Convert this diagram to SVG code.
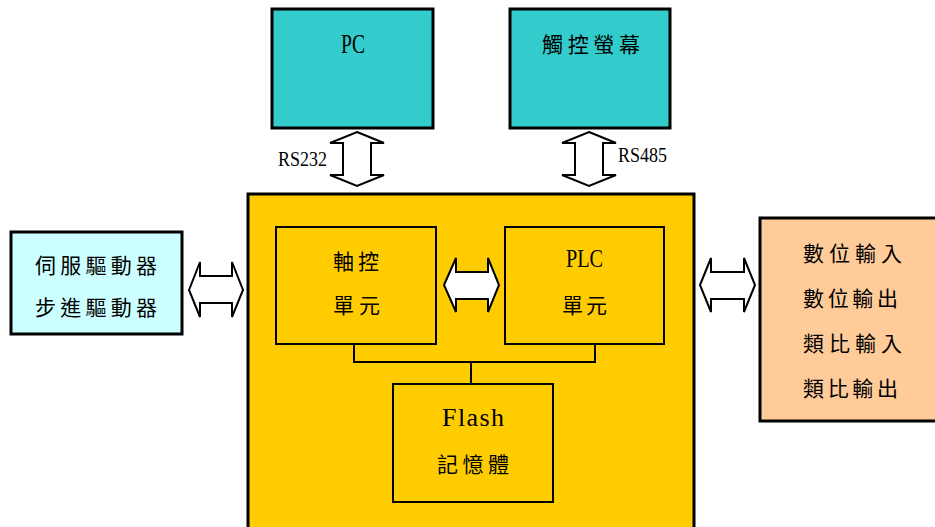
<svg xmlns="http://www.w3.org/2000/svg" width="935" height="527" viewBox="0 0 935 527">
<style>
.box{stroke:#000;stroke-width:3}
.inner{fill:#FFCC00;stroke:#000;stroke-width:2}
.arr{fill:#fff;stroke:#000;stroke-width:2;stroke-linejoin:miter}
.lat{font-family:"Liberation Serif","Noto Serif",serif;fill:#000}
.cjk{font-family:"Noto Sans CJK TC","Noto Sans CJK SC",sans-serif;font-size:21px;fill:#000;dominant-baseline:central}
.conn{fill:none;stroke:#000;stroke-width:2}
</style>
<rect width="935" height="527" fill="#fff"/>
<g id="pc">
<rect class="box" x="272" y="9" width="161" height="119" fill="#33CCCC"/>
<text class="lat" x="341" y="53" font-size="28" textLength="24" lengthAdjust="spacingAndGlyphs">PC</text>
</g>
<g id="touch">
<rect class="box" x="510" y="9" width="160" height="119" fill="#33CCCC"/>
<text class="cjk" x="542" y="43" textLength="98">觸控螢幕</text>
</g>
<g id="main">
<rect class="box" x="248" y="194" width="446" height="345" fill="#FFCC00"/>
</g>
<g id="axis">
<rect class="inner" x="276" y="227" width="160" height="117"/>
<text class="cjk" x="333" y="260" textLength="46">軸控</text>
<text class="cjk" x="333" y="304" textLength="47">單元</text>
</g>
<g id="plc">
<rect class="inner" x="505" y="227" width="159" height="117"/>
<text class="lat" x="566" y="267" font-size="26" textLength="37" lengthAdjust="spacingAndGlyphs">PLC</text>
<text class="cjk" x="562" y="304" textLength="45">單元</text>
</g>
<g id="flash">
<rect class="inner" x="393" y="384" width="160" height="118"/>
<text class="lat" x="442" y="426" font-size="26" textLength="62">Flash</text>
<text class="cjk" x="437" y="463" textLength="72">記憶體</text>
</g>
<g id="drivers">
<rect class="box" x="11" y="232" width="171" height="102" fill="#CCFFFF"/>
<text class="cjk" x="35" y="264" textLength="122">伺服驅動器</text>
<text class="cjk" x="35" y="306" textLength="122">步進驅動器</text>
</g>
<g id="io">
<rect class="box" x="760" y="218" width="200" height="203" fill="#FFCC99"/>
<text class="cjk" x="803" y="252" textLength="99">數位輸入</text>
<text class="cjk" x="803" y="297" textLength="95">數位輸出</text>
<text class="cjk" x="803" y="342" textLength="99">類比輸入</text>
<text class="cjk" x="803" y="387" textLength="95">類比輸出</text>
</g>
<g id="connectors">
<polygon class="arr" points="357,132 384,143 371,143 371,175 384,175 357,186 330,175 343,175 343,143 330,143"/>
<polygon class="arr" points="589,132 616,143 603,143 603,175 616,175 589,186 562,175 575,175 575,143 562,143"/>
<polygon class="arr" points="189,290 200,262 200,276 232,276 232,262 243,290 232,317 232,303 200,303 200,317"/>
<polygon class="arr" points="444,285 456,258 456,272 488,272 488,258 499,285 488,312 488,299 456,299 456,312"/>
<polygon class="arr" points="700,285 711,258 711,272 744,272 744,258 755,285 744,312 744,299 711,299 711,312"/>
<polyline class="conn" points="354,344 354,362 595,362 595,344"/>
<line class="conn" x1="471" y1="362" x2="471" y2="384"/>
<text class="lat" x="278" y="166" font-size="20" textLength="49" lengthAdjust="spacingAndGlyphs">RS232</text>
<text class="lat" x="618" y="162" font-size="20" textLength="49" lengthAdjust="spacingAndGlyphs">RS485</text>
</g>
</svg>
